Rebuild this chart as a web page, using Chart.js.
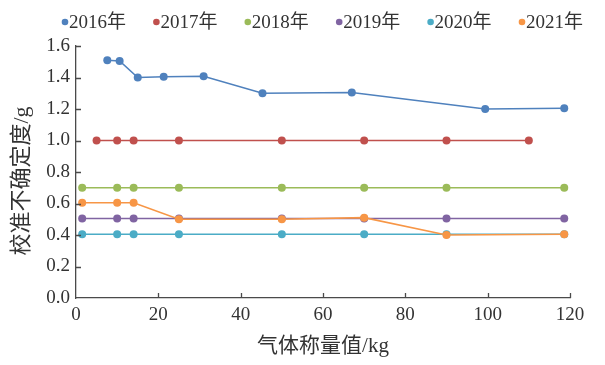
<!DOCTYPE html>
<html>
<head>
<meta charset="utf-8">
<script src="https://cdn.jsdelivr.net/npm/chart.js@4/dist/chart.umd.min.js"></script>
<style>
    html, body { margin: 0; padding: 0; background: #fff; }
    #wrap { width: 605px; height: 365px; }
</style>
</head>
<body>
<div id="wrap"><canvas id="chart"></canvas></div>
<script>
// values
const seriesNames = ['2016年', '2017年', '2018年', '2019年', '2020年', '2021年'];
const seriesColors = ['#4f81bd', '#c0504d', '#9bbb59', '#8064a2', '#4bacc6', '#f79646'];

const x2016 = [7.6, 10.6, 15.0, 21.3, 31.0, 45.3, 67.0, 99.4, 118.6];
const y2016 = [1.51, 1.505, 1.40, 1.405, 1.408, 1.30, 1.305, 1.20, 1.205];

const x2017 = [5, 10, 14, 25, 50, 70, 90, 110];
const y2017 = [1.0, 1.0, 1.0, 1.0, 1.0, 1.0, 1.0, 1.0];

const xLater = [1.5, 10, 14, 25, 50, 70, 90, 118.6];
const y2018 = [0.70, 0.70, 0.70, 0.70, 0.70, 0.70, 0.70, 0.70];
const y2019 = [0.505, 0.505, 0.505, 0.505, 0.505, 0.505, 0.505, 0.505];
const y2020 = [0.405, 0.405, 0.405, 0.405, 0.405, 0.405, 0.405, 0.405];
const y2021 = [0.605, 0.605, 0.605, 0.50, 0.50, 0.51, 0.40, 0.405];

const xTitle = '气体称量值/kg';
const yTitle = '校准不确定度/g';

const serif = '"Liberation Serif", "Times New Roman", "Noto Sans CJK SC", serif';
const textColor = '#333';
const axisColor = '#4a4a4a';

function pairs(xs, ys) {
    return xs.map((x, i) => ({ x: x, y: ys[i] }));
}

const allSeries = [
    pairs(x2016, y2016),
    pairs(x2017, y2017),
    pairs(xLater, y2018),
    pairs(xLater, y2019),
    pairs(xLater, y2020),
    pairs(xLater, y2021)
];

const datasets = allSeries.map((data, i) => ({
    label: seriesNames[i],
    data: data,
    borderColor: seriesColors[i],
    backgroundColor: seriesColors[i],
    borderWidth: 1.6,
    pointRadius: 4,
    pointBorderWidth: 0,
    pointHoverRadius: 4,
    tension: 0,
    // 2021 sits on top of the others
    order: i === 5 ? 0 : 1
}));

// legend: small dot right before the text
const dotLegend = {
    id: 'dotLegend',
    afterDraw(chart) {
        const ctx = chart.ctx;
        ctx.save();
        ctx.font = '19px ' + serif;
        ctx.textBaseline = 'middle';
        chart.data.datasets.forEach((ds, i) => {
            const x = 65 + i * 91.4;
            const y = 22;
            ctx.fillStyle = ds.borderColor;
            ctx.beginPath();
            ctx.arc(x, y, 3.3, 0, Math.PI * 2);
            ctx.fill();
            ctx.fillStyle = textColor;
            ctx.fillText(ds.label, x + 4, y + 1);
        });
        ctx.restore();
    }
};

// rotated y title, placed a bit lower than the scale centre like the reference
const yAxisTitle = {
    id: 'yAxisTitle',
    afterDraw(chart) {
        const ctx = chart.ctx;
        ctx.save();
        ctx.translate(22, 181);
        ctx.rotate(-Math.PI / 2);
        ctx.font = '22px ' + serif;
        ctx.fillStyle = textColor;
        ctx.textAlign = 'center';
        ctx.textBaseline = 'middle';
        ctx.fillText(yTitle, 0, 0);
        ctx.restore();
    }
};

// short tick marks pointing into the plot area
const innerTicks = {
    id: 'innerTicks',
    afterDraw(chart) {
        const ctx = chart.ctx;
        const xs = chart.scales.x;
        const ys = chart.scales.y;
        const area = chart.chartArea;
        ctx.save();
        ctx.strokeStyle = axisColor;
        ctx.lineWidth = 1.3;
        ctx.beginPath();
        xs.ticks.forEach(t => {
            if (t.value === 0) return;
            const px = Math.round(xs.getPixelForValue(t.value)) + 0.5;
            ctx.moveTo(px, area.bottom);
            ctx.lineTo(px, area.bottom - 5);
        });
        ys.ticks.forEach(t => {
            if (t.value === 0) return;
            const py = Math.round(ys.getPixelForValue(t.value)) + 0.5;
            ctx.moveTo(area.left, py);
            ctx.lineTo(area.left + 5, py);
        });
        ctx.stroke();
        ctx.restore();
    }
};

const ctx = document.getElementById('chart').getContext('2d');
const chart = new Chart(ctx, {
    type: 'line',
    data: { datasets: datasets },
    options: {
        responsive: true,
        maintainAspectRatio: false,
        animation: false,
        layout: {
            padding: { top: 46, right: 35, left: 0, bottom: 0 }
        },
        plugins: {
            legend: { display: false },
            tooltip: { enabled: false }
        },
        scales: {
            x: {
                type: 'linear',
                min: 0,
                max: 120,
                afterFit: (scale) => { scale.height = 67; },
                grid: { display: false, drawTicks: false },
                border: { display: true, color: axisColor, width: 1.3 },
                ticks: {
                    stepSize: 20,
                    padding: 6,
                    color: textColor,
                    font: { family: serif, size: 19 }
                },
                title: {
                    display: true,
                    text: xTitle,
                    color: textColor,
                    padding: { top: 0, bottom: 6 },
                    font: { family: serif, size: 21 }
                }
            },
            y: {
                min: 0,
                max: 1.6,
                afterFit: (scale) => { scale.width = 76; },
                grid: { display: false, drawTicks: false },
                border: { display: true, color: axisColor, width: 1.3 },
                ticks: {
                    stepSize: 0.2,
                    padding: 6,
                    color: textColor,
                    font: { family: serif, size: 19 },
                    callback: (v) => Number(v).toFixed(1)
                }
            }
        }
    },
    plugins: [dotLegend, yAxisTitle, innerTicks]
});
</script>
</body>
</html>
